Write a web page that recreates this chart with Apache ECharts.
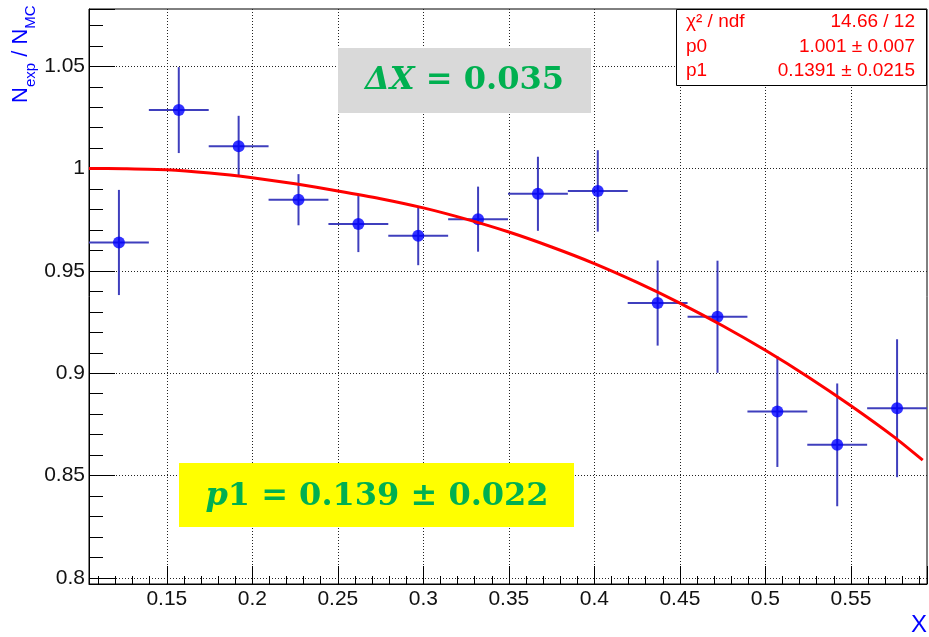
<!DOCTYPE html>
<html><head><meta charset="utf-8">
<script src="https://cdn.jsdelivr.net/npm/echarts@6/dist/echarts.min.js"></script>
<style>html,body{margin:0;padding:0;background:#fff}#c{width:929px;height:637px}</style>
</head><body><div id="c"></div>
<script>
// ---- data ----
const binCenters   = [0.122, 0.157, 0.192, 0.227, 0.262, 0.297, 0.332, 0.367, 0.402, 0.437, 0.472, 0.507, 0.542, 0.577];
const ratioValues  = [0.9639, 1.0286, 1.0109, 0.9848, 0.9729, 0.9672, 0.9753, 0.9877, 0.9891, 0.9343, 0.9276, 0.8813, 0.8650, 0.8829];
const ratioErrors  = [0.0257, 0.0210, 0.0149, 0.0125, 0.0137, 0.0144, 0.0159, 0.0181, 0.0199, 0.0208, 0.0274, 0.0271, 0.0300, 0.0337];
const binHalfWidth = 0.0175;
const fitX = [0.1045, 0.125, 0.15, 0.175, 0.2, 0.225, 0.25, 0.275, 0.3, 0.325, 0.35, 0.375, 0.4, 0.425, 0.45, 0.475, 0.5, 0.525, 0.55, 0.575, 0.592];
const fitY = [1.0001, 0.9999, 0.9994, 0.9978, 0.9955, 0.9926, 0.9891, 0.9853, 0.9808, 0.9753, 0.9690, 0.9617, 0.9536, 0.9444, 0.9343, 0.9232, 0.9112, 0.8982, 0.8841, 0.8690, 0.8575];
const xRange = [0.1045, 0.5945];
const yRange = [0.797, 1.078];
const statsRows = [["χ² / ndf", "14.66 / 12"], ["p0", "1.001 ± 0.007"], ["p1", "0.1391 ± 0.0215"]];

const chart = echarts.init(document.getElementById('c'), null, {renderer: 'canvas'});
const blue = '#0000ff', errColor = '#3f3fbd', green = '#00b050';
const labelFont = {fontSize: 21, fontFamily: 'Liberation Sans, Arial, sans-serif', color: '#111'};

const option = {
  animation: false,
  backgroundColor: '#ffffff',
  grid: {left: 89, right: 2, top: 9, bottom: 53, show: true, borderColor: '#000', borderWidth: 1,
         backgroundColor: 'transparent', outerBoundsMode: 'none', containLabel: false},
  xAxis: {
    type: 'value', min: xRange[0], max: xRange[1], minInterval: 0.05, maxInterval: 0.05,
    axisLine: {onZero: false, lineStyle: {color: '#000', width: 1}},
    axisTick: {inside: true, length: 18, lineStyle: {color: '#000', width: 1}},
    minorTick: {show: true, splitNumber: 5, length: 8, lineStyle: {color: '#000', width: 1}},
    splitLine: {show: true, showMinLine: false, showMaxLine: false, lineStyle: {color: '#222', width: 1, type: [1, 2]}},
    axisLabel: Object.assign({showMinLabel: false, showMaxLabel: false, margin: 5}, labelFont)
  },
  yAxis: {
    type: 'value', min: yRange[0], max: yRange[1], minInterval: 0.05, maxInterval: 0.05,
    axisLine: {onZero: false, lineStyle: {color: '#000', width: 1}},
    axisTick: {inside: true, length: 26, lineStyle: {color: '#000', width: 1}},
    minorTick: {show: true, splitNumber: 5, length: 14, lineStyle: {color: '#000', width: 1}},
    splitLine: {show: true, showMinLine: false, showMaxLine: false, lineStyle: {color: '#222', width: 1, type: [1, 2]}},
    axisLabel: Object.assign({showMinLabel: false, showMaxLabel: false, margin: 4}, labelFont)
  },
  series: [
    {
      type: 'custom', z: 2, clip: true,
      data: binCenters.map((x, i) => [x, ratioValues[i], ratioErrors[i], binHalfWidth]),
      encode: {x: 0, y: 1},
      renderItem: function (params, api) {
        const x = api.value(0), y = api.value(1), e = api.value(2), hw = api.value(3);
        const l = api.coord([x - hw, y]), r = api.coord([x + hw, y]);
        const t = api.coord([x, y + e]), b = api.coord([x, y - e]);
        const st = {stroke: errColor, lineWidth: 2};
        return {type: 'group', children: [
          {type: 'line', shape: {x1: l[0], y1: l[1], x2: r[0], y2: r[1]}, style: st},
          {type: 'line', shape: {x1: t[0], y1: t[1], x2: b[0], y2: b[1]}, style: st}
        ]};
      }
    },
    {
      type: 'scatter', z: 3, symbol: 'circle', symbolSize: 12,
      itemStyle: {color: blue},
      data: binCenters.map((x, i) => [x, ratioValues[i]])
    },
    {
      type: 'line', z: 4, showSymbol: false, smooth: 0.2,
      lineStyle: {color: '#ff0000', width: 3},
      data: fitX.map((x, i) => [x, fitY[i]])
    }
  ],
  graphic: [
    // y-axis title
    {type: 'text', x: 10, y: 103, rotation: Math.PI / 2, z: 10,
     style: {text: '{n|N}{s|exp}{n| / N}{s|MC}', textAlign: 'left', textVerticalAlign: 'top',
       rich: {
         n: {fontSize: 22, lineHeight: 22, fontFamily: 'Liberation Sans, Arial, sans-serif', fill: blue, color: blue, verticalAlign: 'top'},
         s: {fontSize: 15, lineHeight: 15, padding: [13, 0, 0, 0], fontFamily: 'Liberation Sans, Arial, sans-serif', fill: blue, color: blue, verticalAlign: 'top'}
       }}},
    // x-axis title
    {type: 'text', x: 927, y: 625.5, z: 10,
     style: {text: 'X', fontSize: 24, fontFamily: 'Liberation Sans, Arial, sans-serif', fill: blue, textAlign: 'right', textVerticalAlign: 'middle'}},
    // stats box
    {type: 'rect', z: 20, shape: {x: 676.5, y: 9.5, width: 250, height: 76}, style: {fill: '#fff', stroke: '#000', lineWidth: 1}},
    ...statsRows.flatMap((row, i) => [
      {type: 'text', z: 21, x: 686, y: 22 + i * 24.5,
       style: {text: row[0], fontSize: 19, fontFamily: 'Liberation Sans, Arial, sans-serif', fill: '#ff0000', textAlign: 'left', textVerticalAlign: 'middle'}},
      {type: 'text', z: 21, x: 915, y: 22 + i * 24.5,
       style: {text: row[1], fontSize: 19, fontFamily: 'Liberation Sans, Arial, sans-serif', fill: '#ff0000', textAlign: 'right', textVerticalAlign: 'middle'}}
    ]),
    // ΔX annotation
    {type: 'rect', z: 20, shape: {x: 338, y: 48, width: 253, height: 65}, style: {fill: '#d9d9d9'}},
    {type: 'text', z: 21, x: 464.5, y: 80.5,
     style: {text: '{i|ΔX}{b| = 0.035}', textAlign: 'center', textVerticalAlign: 'middle',
       rich: {
         i: {fontSize: 32, fontWeight: 'bold', fontStyle: 'italic', fontFamily: 'DejaVu Serif', fill: green, color: green},
         b: {fontSize: 32, fontWeight: 'bold', fontFamily: 'DejaVu Serif', fill: green, color: green}
       }}},
    // p1 annotation
    {type: 'rect', z: 20, shape: {x: 179, y: 463, width: 395, height: 64}, style: {fill: '#ffff00'}},
    {type: 'text', z: 21, x: 377, y: 497,
     style: {text: '{i|p}{b|1 = 0.139 ± 0.022}', textAlign: 'center', textVerticalAlign: 'middle',
       rich: {
         i: {fontSize: 32, fontWeight: 'bold', fontStyle: 'italic', fontFamily: 'DejaVu Serif', fill: green, color: green},
         b: {fontSize: 32, fontWeight: 'bold', fontFamily: 'DejaVu Serif', fill: green, color: green}
       }}}
  ]
};
chart.setOption(option);
</script>
</body></html>
